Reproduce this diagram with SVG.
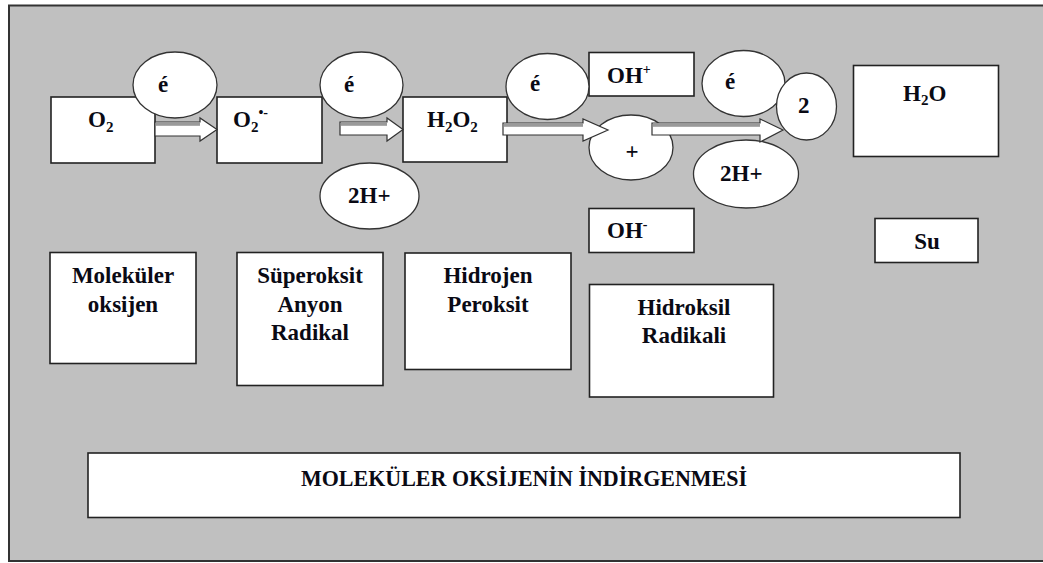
<svg xmlns="http://www.w3.org/2000/svg" width="1043" height="563" viewBox="0 0 1043 563" font-family="Liberation Serif, Times New Roman, Times, DejaVu Serif, serif">
<style>
.bx{fill:#fff;stroke:#222;stroke-width:1.6}
.el{fill:#fff;stroke:#333;stroke-width:1.3}
.t{font-family:'Liberation Serif','Times New Roman',Times,'DejaVu Serif',serif;font-weight:bold;font-size:23px;fill:#0a0a14}
.m{text-anchor:middle}
.ar{fill:#fff;stroke:#333;stroke-width:1.2}
.sh{fill:#9a9a9a}
</style>
<rect x="9" y="5.5" width="1040" height="555.5" fill="#c0c0c0" stroke="#333" stroke-width="2"/>

<g id="n-o2"><rect class="bx" x="51" y="97" width="104" height="66"/><text class="t" x="88" y="127">O<tspan font-size="15" dy="5">2</tspan></text></g>
<g id="n-superoxide"><rect class="bx" x="217" y="97" width="105" height="66"/><text class="t" x="233" y="127">O<tspan font-size="15" dy="5">2</tspan><tspan font-size="14" dy="-15">•-</tspan></text></g>
<g id="n-h2o2"><rect class="bx" x="403" y="97" width="104" height="65"/><text class="t" x="427" y="127">H<tspan font-size="15" dy="5">2</tspan><tspan dy="-5">O</tspan><tspan font-size="15" dy="5">2</tspan></text></g>
<g id="n-ohplus"><rect class="bx" x="589" y="52.5" width="105" height="43.5"/><text class="t" x="607" y="83">OH<tspan font-size="14" dy="-9">+</tspan></text></g>
<g id="n-ohminus"><rect class="bx" x="589" y="208.5" width="105" height="44"/><text class="t" x="607" y="238">OH<tspan font-size="14" dy="-9">-</tspan></text></g>
<g id="n-h2o"><rect class="bx" x="853.5" y="65.5" width="145" height="91"/><text class="t" x="903" y="101">H<tspan font-size="15" dy="4">2</tspan><tspan dy="-4">O</tspan></text></g>
<g id="n-su"><rect class="bx" x="875" y="218.5" width="103" height="44"/><text class="t m" x="927" y="249">Su</text></g>

<g id="n-molekuler"><rect class="bx" x="50" y="252.5" width="146" height="111"/><text class="t m" x="123" y="283">Moleküler</text><text class="t m" x="123" y="312">oksijen</text></g>
<g id="n-superoksit"><rect class="bx" x="237" y="252.5" width="146" height="133"/><text class="t m" x="310" y="283">Süperoksit</text><text class="t m" x="310" y="311.5">Anyon</text><text class="t m" x="310" y="340">Radikal</text></g>
<g id="n-hidrojen"><rect class="bx" x="405" y="253" width="166" height="116.5"/><text class="t m" x="488" y="283">Hidrojen</text><text class="t m" x="488" y="311.5">Peroksit</text></g>
<g id="n-hidroksil"><rect class="bx" x="589.5" y="284.5" width="184" height="112.5"/><text class="t m" x="684" y="315">Hidroksil</text><text class="t m" x="684" y="343">Radikali</text></g>
<g id="n-title"><rect class="bx" x="88" y="453" width="872" height="64.5"/><text class="t m" x="524" y="486" textLength="446" lengthAdjust="spacingAndGlyphs">MOLEKÜLER OKSİJENİN İNDİRGENMESİ</text></g>

<g id="n-e1"><ellipse class="el" cx="175" cy="85" rx="42" ry="33"/><text class="t" x="158" y="91.5">é</text></g>
<g id="n-e2"><ellipse class="el" cx="361.5" cy="85" rx="41.5" ry="33"/><text class="t" x="344" y="91.5">é</text></g>
<g id="n-e3"><ellipse class="el" cx="547.5" cy="86.5" rx="41.5" ry="33"/><text class="t" x="530" y="90.5">é</text></g>
<g id="n-e4"><ellipse class="el" cx="743.5" cy="83.5" rx="41.5" ry="33"/><text class="t" x="725" y="88.5">é</text></g>
<g id="n-2h1"><ellipse class="el" cx="369.5" cy="196" rx="49.5" ry="33"/><text class="t" x="348" y="203">2H+</text></g>
<g id="n-2h2"><ellipse class="el" cx="746" cy="174" rx="52.5" ry="34"/><text class="t" x="720" y="181">2H+</text></g>
<g id="n-plus"><ellipse class="el" cx="631" cy="147.5" rx="42" ry="32.5"/><text class="t m" x="632" y="159" font-size="25">+</text></g>
<g id="n-two"><ellipse class="el" cx="806.5" cy="106.5" rx="30" ry="33.5"/><text class="t" x="798" y="113">2</text></g>

<g id="connectors">
<polygon class="ar" points="155,122 200,122 200,118 217,129.5 200,141 200,136 155,136"/>
<rect class="sh" x="156" y="122.8" width="44" height="3"/>
<polygon class="ar" points="340,122 387,122 387,118 403,129.5 387,141 387,135 340,135"/>
<rect class="sh" x="341" y="122.8" width="46" height="3"/>
<polygon class="ar" points="503,123 583,123 583,119 608,130 583,141 583,135 503,135"/>
<rect class="sh" x="504" y="123.8" width="79" height="3"/>
<polygon class="ar" points="652,123 760,123 760,119 783,130 760,142 760,135 652,135"/>
<rect class="sh" x="653" y="123.8" width="107" height="3"/>
</g>
</svg>
